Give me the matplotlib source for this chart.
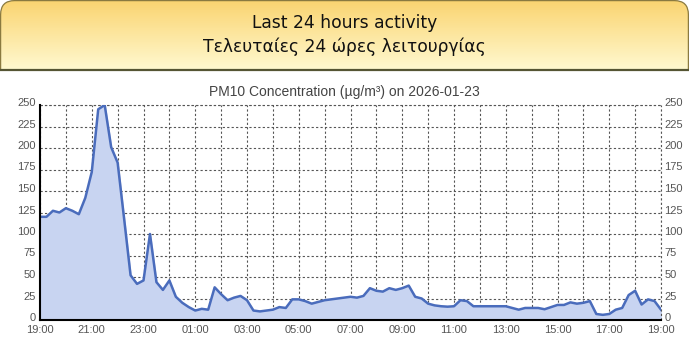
import numpy as np
import matplotlib
matplotlib.use("Agg")
import matplotlib.pyplot as plt
import matplotlib.transforms as mtransforms
from matplotlib.patches import FancyBboxPatch, Rectangle
from matplotlib.ticker import MultipleLocator, FixedLocator

# ---- data ----
title_en = "Last 24 hours activity"
title_gr = "Τελευταίες 24 ώρες λειτουργίας"
chart_title = "PM10 Concentration (µg/m³) on 2026-01-23"
pm10 = [
    120, 120, 127, 125, 130, 127, 123, 142,   # 19:00-20:45
    172, 245, 250, 201, 183, 118, 52, 42,     # 21:00-22:45
    46, 100, 44, 35, 46, 27, 20, 15,          # 23:00-00:45
    11, 13, 12, 38, 30, 23, 26, 28,           # 01:00-02:45
    23, 11, 10, 11, 12, 15, 14, 24,           # 03:00-04:45
    24, 22, 19, 21, 23, 24, 25, 26,           # 05:00-06:45
    27, 26, 28, 37, 34, 33, 37, 35,           # 07:00-08:45
    37, 40, 27, 25, 19, 17, 16, 15.5,         # 09:00-10:45
    16, 23, 22, 16, 16, 16, 16, 16,           # 11:00-12:45
    16, 14, 12, 14, 14, 14, 12.5, 15,         # 13:00-14:45
    17.5, 17.5, 20.5, 19, 20, 22, 7, 6,       # 15:00-16:45
    7, 12, 14, 29, 34, 18, 24, 22,            # 17:00-18:45
    12,                                       # 19:00
]
tick_labels = ["19:00", "21:00", "23:00", "01:00", "03:00", "05:00", "07:00",
               "09:00", "11:00", "13:00", "15:00", "17:00", "19:00"]
y_ticks = [0, 25, 50, 75, 100, 125, 150, 175, 200, 225, 250]

hours = np.arange(len(pm10)) * 0.25

W, H = 689, 360
fig = plt.figure(figsize=(W / 100, H / 100), dpi=100)
fig.patch.set_facecolor("white")

# ---- header band ----
hax = fig.add_axes([0, 0, 1, 1])
hax.set_xlim(0, W)
hax.set_ylim(H, 0)
hax.axis("off")
top = np.array([250, 212, 112]) / 255
bot = np.array([255, 249, 208]) / 255
t = np.linspace(0, 1, 100)[:, None]
grad = (top[None, :] * (1 - t) + bot[None, :] * t)[:, None, :]
clip_rect = Rectangle((0, 0), W, 70.5, transform=hax.transData)
box = FancyBboxPatch((0.6, 0.6), W - 1.2, 110, boxstyle="round,pad=0,rounding_size=14",
                     facecolor="none", edgecolor="#8a7a40", linewidth=0.9)
hax.add_patch(box)
box.set_clip_path(clip_rect)
im = hax.imshow(grad, extent=(0.6, W - 0.6, 70, 0.6), aspect="auto", zorder=0)
im.set_clip_path(box)
hax.plot([0, W], [70, 70], color="#555533", linewidth=1.6, solid_capstyle="butt")
hax.text(W / 2, 23, title_en, ha="center", va="center", fontsize=12.3,
         family="DejaVu Sans", color="#111111")
hax.text(W / 2, 47, title_gr, ha="center", va="center", fontsize=12.3,
         family="DejaVu Sans", color="#111111")
hax.text(W / 2, 92, chart_title, ha="center", va="center", fontsize=10,
         family="Liberation Sans", color="#444444")

# ---- chart ----
left, right, ytop, ybot = 40, 661, 105, 320
ax = fig.add_axes([left / W, 1 - ybot / H, (right - left) / W, (ybot - ytop) / H])
ax.set_xlim(0, 24)
ax.set_ylim(0, 250)
ax.fill_between(hours, pm10, 0, color="#c8d4f1", zorder=1)
ax.plot(hours, pm10, color="#4a6cbc", linewidth=1.8, zorder=3)

ax.xaxis.set_major_locator(FixedLocator(np.arange(0, 25, 2)))
ax.set_xticklabels(tick_labels)
ax.xaxis.set_minor_locator(MultipleLocator(1))
ax.set_yticks(y_ticks)
gridkw = dict(color="#555555", linestyle=(0, (2, 2)), linewidth=0.8)
ax.grid(which="both", axis="x", **gridkw)
ax.grid(which="major", axis="y", **gridkw)
ax.set_axisbelow(True)
for s in ["top", "right"]:
    ax.spines[s].set_visible(False)
for s in ["left", "bottom"]:
    ax.spines[s].set_color("black")
    ax.spines[s].set_linewidth(1.5)
    ax.spines[s].set_zorder(5)
ax.tick_params(which="both", length=0, labelsize=8, colors="#555555")
ax.tick_params(axis="x", pad=3.5)
ax.tick_params(axis="y", labelright=True, right=False, pad=3)
ax.tick_params(axis="y", which="major", pad=3)
ax.yaxis.set_tick_params(labelright=True)
for lab in ax.get_xticklabels() + ax.get_yticklabels():
    lab.set_family("Liberation Sans")
# shift y labels up slightly, right labels closer to the plot
up = mtransforms.ScaledTranslation(0, 3 / 100, fig.dpi_scale_trans)
for tk in ax.yaxis.get_major_ticks():
    tk.label1.set_transform(tk.label1.get_transform() + up)
    tk.label2.set_transform(tk.label2.get_transform() + up +
                            mtransforms.ScaledTranslation(-1 / 100, 0, fig.dpi_scale_trans))
    tk.label2.set_family("Liberation Sans")
# top/right dashed edges
ax.axhline(250, clip_on=False, **gridkw)
ax.axvline(24, clip_on=False, **gridkw)

fig.savefig("out.png", dpi=100)
